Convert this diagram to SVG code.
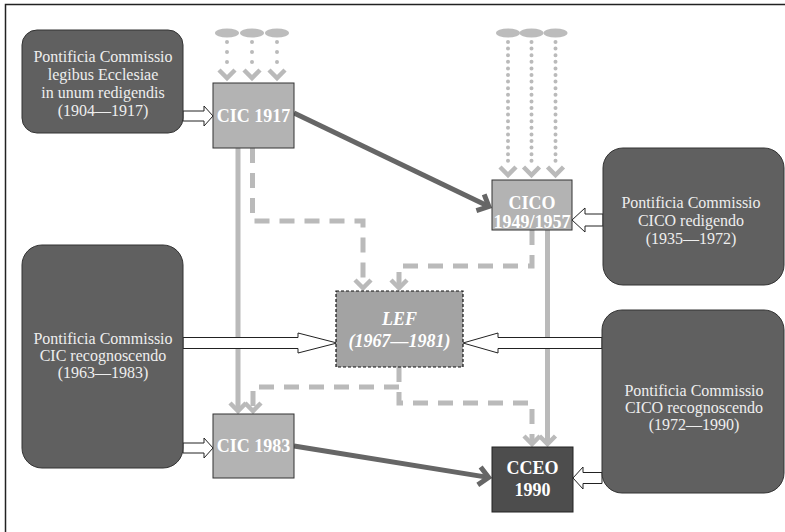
<svg xmlns="http://www.w3.org/2000/svg" width="785" height="532" viewBox="0 0 785 532">
<style>
.dark{fill:#606060;stroke:#333;stroke-width:1}
.lite{fill:#b3b3b3;stroke:#333;stroke-width:1}
.dt{font-family:"Liberation Serif",serif;font-size:16px;fill:#eeeeee;text-anchor:middle}
.lt{font-family:"Liberation Serif",serif;font-size:18px;font-weight:bold;fill:#ffffff;text-anchor:middle}
.hollow{fill:#ffffff;stroke:#222;stroke-width:1}
.g{fill:none;stroke:#bababa;stroke-width:5}
.gd{fill:none;stroke:#bababa;stroke-width:5;stroke-dasharray:15 10}
.dot{fill:none;stroke:#bababa;stroke-width:4;stroke-linecap:round}
.dk{fill:none;stroke:#666666;stroke-width:5}
.ell{fill:#bcbcbc}
</style>
<defs>
<marker id="chev" markerUnits="userSpaceOnUse" orient="auto" refX="0" refY="0" markerWidth="30" markerHeight="30" overflow="visible">
<path d="M-8,-8 L0,0 L-8,8" fill="none" stroke="#bababa" stroke-width="4.5"/>
</marker>
<marker id="chevD" markerUnits="userSpaceOnUse" orient="auto" refX="0" refY="0" markerWidth="30" markerHeight="30" overflow="visible">
<path d="M6,-8 L14,0 L6,8" fill="none" stroke="#bababa" stroke-width="4.5"/>
</marker>
<marker id="chevK" markerUnits="userSpaceOnUse" orient="auto" refX="0" refY="0" markerWidth="30" markerHeight="30" overflow="visible">
<path d="M-9,-9 L0.5,0 L-9,9" fill="none" stroke="#666666" stroke-width="5"/>
</marker>
</defs>
<rect width="785" height="532" fill="#ffffff"/>
<path d="M5.5,532 V4.5 H785" fill="none" stroke="#222" stroke-width="1.5"/>

<g id="connectors">
<!-- sources ellipses and dotted arrows -->
<ellipse class="ell" cx="227" cy="33" rx="12" ry="4.5"/>
<ellipse class="ell" cx="252" cy="33" rx="12" ry="4.5"/>
<ellipse class="ell" cx="277" cy="33" rx="12" ry="4.5"/>
<ellipse class="ell" cx="508" cy="33" rx="12" ry="4.5"/>
<ellipse class="ell" cx="531.5" cy="33" rx="12" ry="4.5"/>
<ellipse class="ell" cx="555.5" cy="33" rx="12" ry="4.5"/>
<path class="dot" stroke-dasharray="0 10" d="M227,42 V64" marker-end="url(#chevD)"/>
<path class="dot" stroke-dasharray="0 10" d="M252,42 V64" marker-end="url(#chevD)"/>
<path class="dot" stroke-dasharray="0 10" d="M277,42 V64" marker-end="url(#chevD)"/>
<path class="dot" stroke-dasharray="0 6.6" d="M508,42 V161" marker-end="url(#chevD)"/>
<path class="dot" stroke-dasharray="0 6.6" d="M531.5,42 V161" marker-end="url(#chevD)"/>
<path class="dot" stroke-dasharray="0 6.6" d="M555.5,42 V161" marker-end="url(#chevD)"/>

<!-- solid grey -->
<path class="g" d="M238,148 V411" marker-end="url(#chev)"/>
<path class="g" d="M547.5,230 V444" marker-end="url(#chev)"/>

<!-- dashed grey -->
<path class="gd" d="M252.5,148 V221 H363 V288" marker-end="url(#chev)"/>
<path class="gd" d="M532,230 V266 H399 V288" marker-end="url(#chev)"/>
<path class="gd" d="M399,367 V403 H532 V444" marker-end="url(#chev)"/>
<path class="gd" d="M399,387 H253 V411" marker-end="url(#chev)"/>

<!-- dark arrows -->
<path class="dk" d="M294,113 L488.4,206.3" marker-end="url(#chevK)"/>
<path class="dk" d="M294,446 L488.1,477.4" marker-end="url(#chevK)"/>

<!-- hollow arrows -->
<polygon class="hollow" points="183,111 204,111 204,106 213,116 204,126 204,121 183,121"/>
<polygon class="hollow" points="183,337.5 298,337.5 298,333 337,343 298,353 298,348.5 183,348.5"/>
<polygon class="hollow" points="602,337.5 498,337.5 498,333 463,343 498,353 498,348.5 602,348.5"/>
<polygon class="hollow" points="603,214 585,214 585,208 572,220 585,232 585,226 603,226"/>
<polygon class="hollow" points="602,472.5 583,472.5 583,467 573,478 583,489 583,483.5 602,483.5"/>
<polygon class="hollow" points="183,443 204,443 204,438 213,448 204,458 204,453 183,453"/>
</g>

<g id="pc1904">
<rect class="dark" x="22" y="30" width="161" height="103" rx="15"/>
<text class="dt" x="103" y="62">Pontificia Commissio</text>
<text class="dt" x="103" y="80">legibus Ecclesiae</text>
<text class="dt" x="103" y="98">in unum redigendis</text>
<text class="dt" x="103" y="116">(1904—1917)</text>
</g>

<g id="cic1917">
<rect class="lite" x="213" y="83" width="81" height="65"/>
<text class="lt" x="253.5" y="122">CIC 1917</text>
</g>

<g id="cico">
<rect class="lite" x="492" y="180" width="80" height="50"/>
<text class="lt" x="532" y="209">CICO</text>
<text class="lt" x="532" y="228">1949/1957</text>
</g>

<g id="pc1935">
<rect class="dark" x="603" y="148" width="181" height="137" rx="20"/>
<text class="dt" x="691" y="208">Pontificia Commissio</text>
<text class="dt" x="691" y="226">CICO redigendo</text>
<text class="dt" x="691" y="244">(1935—1972)</text>
</g>

<g id="lef">
<rect x="336" y="291" width="127" height="76" fill="#a3a3a3" stroke="#111" stroke-width="1.2" stroke-dasharray="3 2"/>
<text class="lt" font-style="italic" x="399.5" y="325">LEF</text>
<text class="lt" font-style="italic" x="399.5" y="347">(1967—1981)</text>
</g>

<g id="pc1963">
<rect class="dark" x="22" y="245" width="161" height="223" rx="20"/>
<text class="dt" x="103" y="344">Pontificia Commissio</text>
<text class="dt" x="103" y="361">CIC recognoscendo</text>
<text class="dt" x="103" y="378">(1963—1983)</text>
</g>

<g id="pc1972">
<rect class="dark" x="602" y="310" width="182" height="183" rx="20"/>
<text class="dt" x="694" y="396">Pontificia Commissio</text>
<text class="dt" x="694" y="413">CICO recognoscendo</text>
<text class="dt" x="694" y="430">(1972—1990)</text>
</g>

<g id="cic1983">
<rect class="lite" x="213" y="414" width="81" height="64"/>
<text class="lt" x="253.5" y="452">CIC 1983</text>
</g>

<g id="cceo">
<rect x="492" y="447" width="81" height="65" fill="#4d4d4d" stroke="#222" stroke-width="1"/>
<text class="lt" x="532.5" y="474">CCEO</text>
<text class="lt" x="532.5" y="496">1990</text>
</g>
</svg>
